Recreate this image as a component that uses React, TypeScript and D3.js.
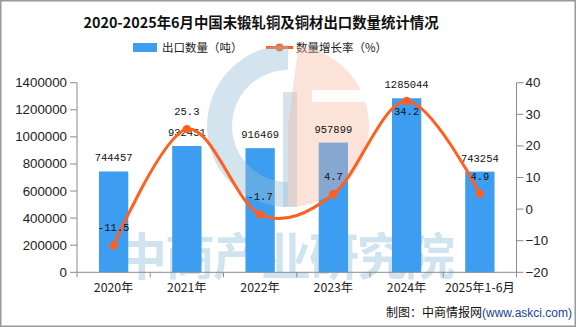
import React from "react";
import * as d3 from "d3";

const categories = ["2020年", "2021年", "2022年", "2023年", "2024年", "2025年1-6月"];
const exportVolume = [744457, 932451, 916469, 957899, 1285044, 743254];
const growthRate = [-11.5, 25.3, -1.7, 4.7, 34.2, 4.9];
const leftTicks = [0, 200000, 400000, 600000, 800000, 1000000, 1200000, 1400000];
const rightTicks = [-20, -10, 0, 10, 20, 30, 40];

const W = 576;
const H = 327;
const M = { left: 77, right: 516.5, top: 82.7, bottom: 272.3 };
const BAR = "#3d9df0";
const LINE = "#ff6020";
const AXIS = "#8c8c8c";
const CJK = "'Noto Sans CJK SC', sans-serif";
const SANS = "'Liberation Sans', Arial, sans-serif";
const MONO = "'Liberation Mono', 'DejaVu Sans Mono', monospace";

export default function App() {
  const x = d3.scaleBand<string>().domain(categories).range([M.left, M.right]);
  const yL = d3.scaleLinear().domain([0, 1400000]).range([M.bottom, M.top]);
  const yR = d3.scaleLinear().domain([-20, 40]).range([M.bottom, M.top]);
  const bw = x.bandwidth() * 0.4;
  const cx = (c: string) => (x(c) as number) + x.bandwidth() / 2;

  const pts: [number, number][] = categories.map((c, i) => [cx(c), yR(growthRate[i])]);
  const linePath = d3.line().curve(d3.curveCardinal.tension(0))(pts) as string;
  const maxRate = d3.max(growthRate) as number;

  const lc = { x: 288, y: 126 };
  const R = 81;
  const blueArc = d3.arc()({ innerRadius: 56, outerRadius: R, startAngle: Math.PI, endAngle: 2 * Math.PI }) as string;
  const orangeArc = d3.arc()({ innerRadius: 0, outerRadius: R, startAngle: 0.13, endAngle: Math.PI }) as string;

  const boundaries = d3.range(categories.length + 1).map((i) => M.left + i * x.step());

  return (
    <div style={{ position: "absolute", left: 0, top: 0 }}>
      <svg width={W} height={H} style={{ display: "block", background: "#fff" }}>
        <rect x={0.75} y={0.75} width={W - 1.5} height={H - 1.5} fill="#fff" stroke="#999" strokeWidth={1.5} />

        <text x={261} y={28} textAnchor="middle" fontFamily={CJK} fontWeight="bold" fontSize={14.4} fill="#111">
          2020-2025年6月中国未锻轧铜及铜材出口数量统计情况
        </text>

        <rect x={133} y={43} width={24} height={9} fill={BAR} />
        <text x={162} y={52} fontFamily={CJK} fontSize={11.5} fill="#222">出口数量（吨）</text>
        <line x1={266} x2={293} y1={47.5} y2={47.5} stroke={LINE} strokeWidth={3} />
        <circle cx={279.5} cy={47.5} r={4} fill={LINE} />
        <text x={296} y={52} fontFamily={CJK} fontSize={11.5} fill="#222">数量增长率（%）</text>

        <text x={117} y={275} fontFamily={CJK} fontWeight="bold" fontSize={50} fill="#d0e4f0" letterSpacing={-2}>
          中商产业研究院
        </text>

        {categories.map((c, i) => (
          <rect key={c} x={cx(c) - bw / 2} y={yL(exportVolume[i])} width={bw} height={M.bottom - yL(exportVolume[i])} fill={BAR} />
        ))}

        <g transform={`translate(${lc.x},${lc.y})`}>
          <path d={blueArc} fill="rgba(150,190,215,0.42)" />
          <rect x={-5} y={-34} width={14} height={115} fill="rgba(150,190,215,0.42)" />
          <path d={orangeArc} fill="rgba(245,185,160,0.4)" />
          <rect x={24} y={-36} width={60} height={12} fill="#fff" opacity={0.9} />
        </g>

        <line x1={M.left} x2={M.left} y1={M.top} y2={M.bottom} stroke={AXIS} />
        {leftTicks.map((t) => (
          <g key={t}>
            <line x1={M.left - 7} x2={M.left} y1={yL(t)} y2={yL(t)} stroke={AXIS} />
            <text x={M.left - 10} y={yL(t) + 4.5} textAnchor="end" fontFamily={SANS} fontSize={13.3} fill="#222">{t}</text>
          </g>
        ))}

        <line x1={M.right} x2={M.right} y1={M.top} y2={M.bottom} stroke={AXIS} />
        {rightTicks.map((t) => (
          <g key={t}>
            <line x1={M.right} x2={M.right + 7} y1={yR(t)} y2={yR(t)} stroke={AXIS} />
            <text x={M.right + 9} y={yR(t) + 4.5} fontFamily={SANS} fontSize={13.3} fill="#222">{t < 0 ? `−${-t}` : t}</text>
          </g>
        ))}

        <line x1={M.left} x2={M.right} y1={M.bottom} y2={M.bottom} stroke={AXIS} />
        {boundaries.map((b, i) => (
          <line key={i} x1={b} x2={b} y1={M.bottom} y2={M.bottom + 5} stroke={AXIS} />
        ))}
        {categories.map((c) => (
          <text key={c} x={cx(c)} y={292} textAnchor="middle" fontFamily={CJK} fontSize={12.3} fill="#222">{c}</text>
        ))}

        {categories.map((c, i) => (
          <text key={c} x={cx(c)} y={yL(exportVolume[i]) - 10} textAnchor="middle" fontFamily={MONO} fontSize={10.5} fill="#111">{exportVolume[i]}</text>
        ))}

        <path d={linePath} fill="none" stroke={LINE} strokeWidth={3} />
        {pts.map((p, i) => (
          <circle key={i} cx={p[0]} cy={p[1]} r={4.2} fill={LINE} />
        ))}
        {pts.map((p, i) => (
          <text key={i} x={p[0]} y={growthRate[i] === maxRate ? p[1] + 14 : p[1] - 14} textAnchor="middle" fontFamily={MONO} fontSize={10.5} fill="#111">
            {growthRate[i]}
          </text>
        ))}

        <text x={386} y={317} fontFamily={CJK} fontSize={12} fill="#111">
          制图：中商情报网<tspan fill="#1a3f8f" fontFamily={SANS}>(www.askci.com)</tspan>
        </text>
      </svg>
    </div>
  );
}
